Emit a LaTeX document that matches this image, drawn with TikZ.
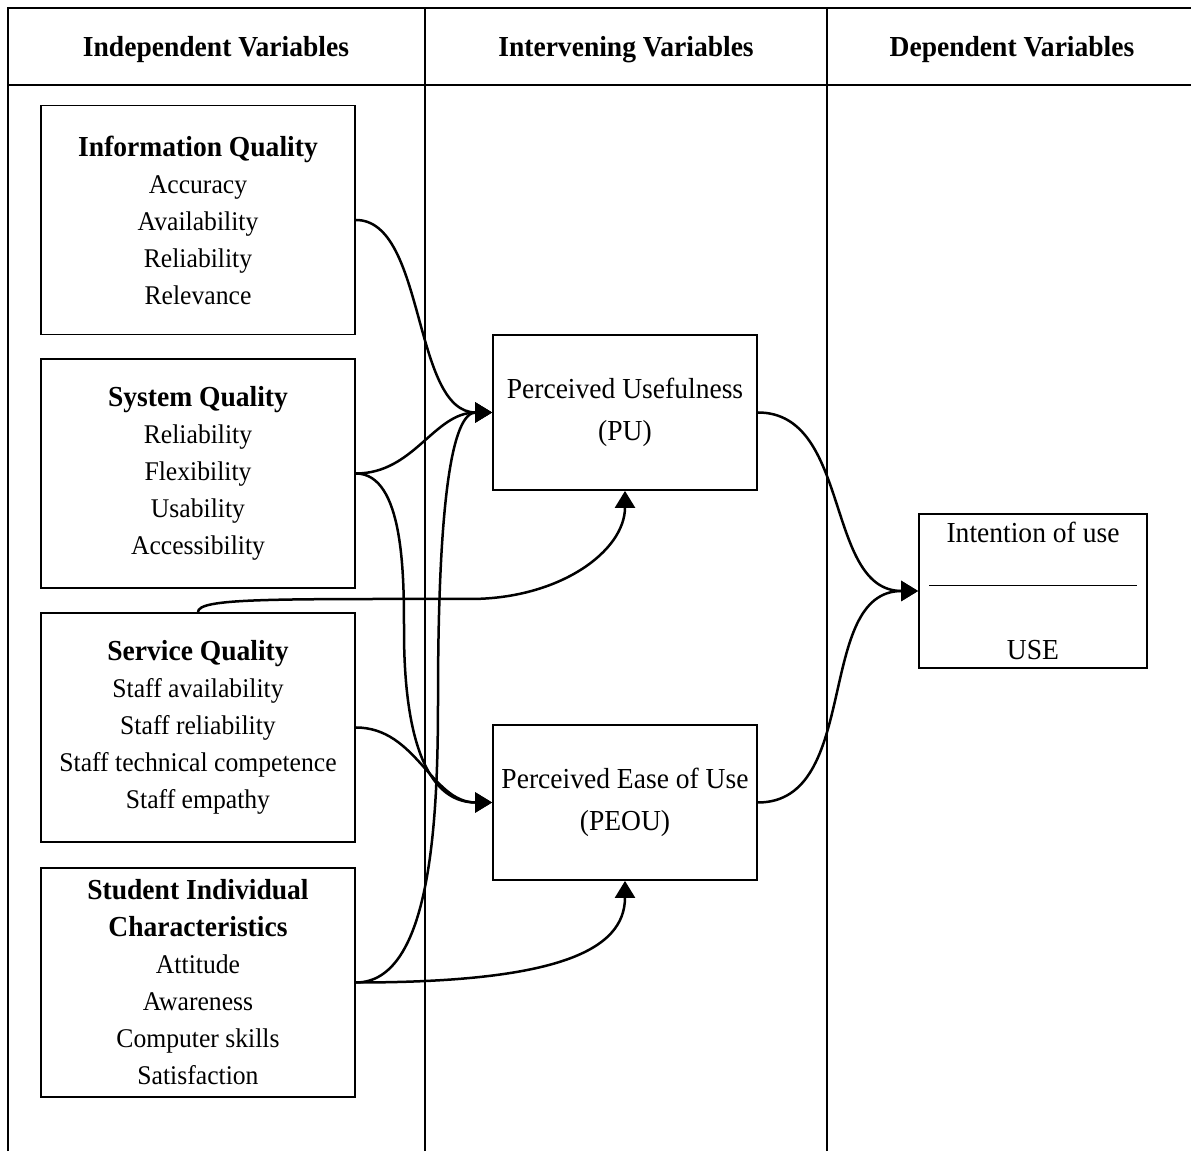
\documentclass[tikz,border=0pt]{standalone}
\usepackage{fontspec}
\setmainfont{Liberation Serif}[FakeStretch=0.95]
\usetikzlibrary{arrows.meta}

\tikzset{
  frame/.style={line width=1.8pt},
  colhead/.style={font=\fontsize{29}{35}\selectfont\bfseries},
  varbox/.style={draw, line width=1.8pt, fill=white, minimum width=314pt,
    minimum height=229pt, inner sep=0pt, align=center,
    font=\fontsize{27}{37}\selectfont},
  midbox/.style={draw, line width=1.8pt, fill=white, minimum width=264pt,
    minimum height=155pt, inner sep=0pt, align=center,
    font=\fontsize{29}{42}\selectfont},
  depbox/.style={midbox, minimum width=228pt, minimum height=154pt,
    font=\fontsize{29}{39}\selectfont},
  link/.style={line width=2.5pt, -{Triangle[length=17pt,width=20pt]}},
}
\newcommand{\boxtitle}[1]{{\fontsize{29}{37}\selectfont\bfseries #1}}

\begin{document}
\begin{tikzpicture}[x=1pt,y=1pt]
\useasboundingbox (0,0) rectangle (1191,1151);

\draw[frame] (8,0) -- (8,1143) -- (1191,1143);
\draw[frame] (8,1066) -- (1191,1066);
\draw[frame] (425,0) -- (425,1143);
\draw[frame] (827,0) -- (827,1143);

\node[colhead] (hindep)  at (216,1101) {Independent Variables};
\node[colhead] (hinterv) at (626,1101) {Intervening Variables};
\node[colhead] (hdep)    at (1012,1101) {Dependent Variables};

\node[varbox] (infoq) at (198,931)
  {\boxtitle{Information Quality}\\Accuracy\\Availability\\Reliability\\Relevance};
\node[varbox] (sysq) at (198,677.5)
  {\boxtitle{System Quality}\\Reliability\\Flexibility\\Usability\\Accessibility};
\node[varbox] (servq) at (198,423.5)
  {\boxtitle{Service Quality}\\Staff availability\\Staff reliability\\Staff technical competence\\Staff empathy};
\node[varbox] (stud) at (198,168.5)
  {\boxtitle{Student Individual}\\\boxtitle{Characteristics}\\Attitude\\Awareness\\Computer skills\\Satisfaction};

\node[midbox] (pu)   at (625,738.5) {Perceived Usefulness\\(PU)};
\node[midbox] (peou) at (625,348.5) {Perceived Ease of Use\\(PEOU)};

\node[depbox] (intent) at (1033,560)
  {Intention of use\\\rule[-4pt]{208pt}{1pt}\\[39pt]USE};

\coordinate (sysdrop)  at (404,520);
\coordinate (servturn) at (470,552);
\coordinate (studrise) at (438,451);

\draw[link] (infoq.east) to[out=0,in=180,out distance=70pt,in distance=80pt] (pu.west);
\draw[link] (sysq.east) to[out=0,in=180] (pu.west);
\draw[link] (sysq.east) to[out=0,in=90,out distance=48pt,in distance=55pt] (sysdrop)
  to[out=-90,in=180,out distance=95pt,in distance=70pt] (peou.west);
\draw[link] (servq.north) to[out=90,in=180,out distance=14pt,in distance=200pt] (servturn)
  to[out=0,in=-90,out distance=90pt,in distance=60pt] (pu.south);
\draw[link] (servq.east) to[out=0,in=180] (peou.west);
\draw[link] (stud.east) to[out=0,in=-90,out distance=75pt,in distance=121pt] (studrise)
  to[out=90,in=180,out distance=200pt,in distance=40pt] (pu.west);
\draw[link] (stud.east) to[out=0,in=-90,out distance=200pt,in distance=70pt] (peou.south);
\draw[link] (pu.east) to[out=0,in=180] (intent.west);
\draw[link] (peou.east) to[out=0,in=180] (intent.west);

\end{tikzpicture}
\end{document}
